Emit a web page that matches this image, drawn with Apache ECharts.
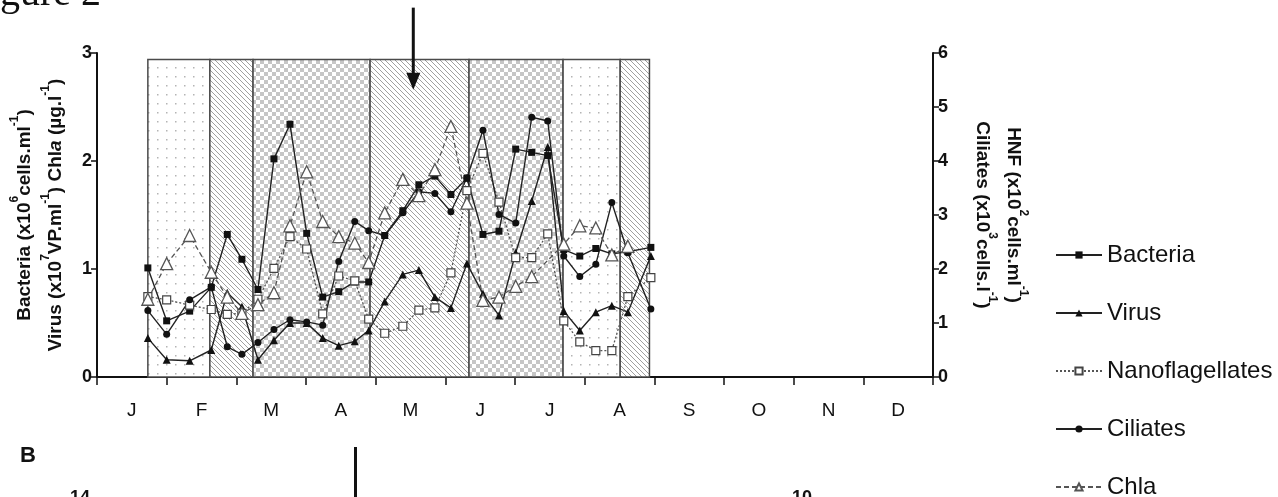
<!DOCTYPE html>
<html>
<head>
<meta charset="utf-8">
<script src="https://cdn.jsdelivr.net/npm/echarts@6/dist/echarts.min.js"></script>
<style>
  html, body { margin: 0; padding: 0; background: #fff; }
  #chart { width: 1278px; height: 497px; }
</style>
</head>
<body>
<div id="chart"></div>
<script>
// sampling dates, in months from 1 January
const sampleMonth = [0.73, 1.00, 1.33, 1.64, 1.87, 2.08, 2.31, 2.54, 2.77, 3.01, 3.24, 3.47, 3.70, 3.90, 4.13, 4.39,
  4.62, 4.85, 5.08, 5.31, 5.54, 5.77, 6.01, 6.24, 6.47, 6.70, 6.93, 7.16, 7.39, 7.62, 7.95]

// left axis
const bacteria = [1.01, 0.52, 0.61, 0.83, 1.32, 1.09, 0.81, 2.02, 2.34, 1.33, 0.74, 0.79, 0.88, 0.88, 1.31, 1.54,
  1.78, 1.86, 1.69, 1.84, 1.32, 1.35, 2.11, 2.08, 2.05, 1.18, 1.12, 1.19, 1.14, 1.16, 1.20]
const virus = [0.36, 0.16, 0.15, 0.25, 0.78, 0.65, 0.16, 0.34, 0.50, 0.50, 0.36, 0.29, 0.33, 0.43, 0.70, 0.95,
  0.99, 0.74, 0.64, 1.05, 0.77, 0.57, 1.15, 1.63, 2.13, 0.61, 0.43, 0.60, 0.66, 0.60, 1.12]
const chla = [0.72, 1.05, 1.31, 0.97, 0.74, 0.59, 0.67, 0.78, 1.40, 1.90, 1.44, 1.30, 1.24, 1.06, 1.52, 1.83,
  1.68, 1.92, 2.32, 1.61, 0.71, 0.74, 0.84, 0.93, null, 1.23, 1.40, 1.38, 1.13, 1.21, null]

// right axis
const nanoflagellates = [1.49, 1.43, 1.33, 1.25, 1.16, 1.18, 1.44, 2.01, 2.60, 2.37, 1.17, 1.87, 1.78, 1.07, 0.81, 0.94,
  1.24, 1.28, 1.93, 3.45, 4.14, 3.24, 2.21, 2.21, 2.65, 1.04, 0.65, 0.49, 0.49, 1.49, 1.84]
const ciliates = [1.23, 0.79, 1.43, 1.67, 0.56, 0.42, 0.64, 0.88, 1.06, 1.02, 0.96, 2.14, 2.88, 2.71, 2.62, 3.04,
  3.43, 3.40, 3.06, 3.69, 4.57, 3.01, 2.85, 4.81, 4.74, 2.24, 1.86, 2.09, 3.23, 2.30, 1.26]

// shaded periods
const periodStart = [0.73, 1.62, 2.24, 3.92, 5.34, 6.69, 7.51]
const periodEnd = [1.62, 2.24, 3.92, 5.34, 6.69, 7.51, 7.93]
const periodPattern = ['dots', 'hatch', 'check', 'hatch', 'check', 'dots', 'hatch']
const periodTop = 2.94

const arrowMonth = [4.54]
const arrowFrom = [3.42]
const arrowTo = [2.66]

const months = ['J', 'F', 'M', 'A', 'M', 'J', 'J', 'A', 'S', 'O', 'N', 'D']
const leftTicks = [0, 1, 2, 3]
const rightTicks = [0, 1, 2, 3, 4, 5, 6]

const FONT = 'Liberation Sans, Arial, sans-serif'

function makePattern(kind) {
  const c = document.createElement('canvas')
  const ctx = c.getContext('2d')
  if (kind === 'dots') {
    c.width = 9; c.height = 9
    ctx.fillStyle = '#fff'; ctx.fillRect(0, 0, 9, 9)
    ctx.fillStyle = '#b4b4b4'; ctx.fillRect(4, 4, 1.5, 1.5)
  } else if (kind === 'hatch') {
    c.width = 5; c.height = 5
    ctx.fillStyle = '#fff'; ctx.fillRect(0, 0, 5, 5)
    ctx.strokeStyle = '#a0a0a0'; ctx.lineWidth = 1
    ctx.beginPath()
    ctx.moveTo(-1, -1); ctx.lineTo(6, 6)
    ctx.moveTo(-1, 4); ctx.lineTo(1, 6)
    ctx.moveTo(4, -1); ctx.lineTo(6, 1)
    ctx.stroke()
  } else {
    c.width = 8; c.height = 8
    ctx.fillStyle = '#fff'; ctx.fillRect(0, 0, 8, 8)
    ctx.fillStyle = '#c6c6c6'
    ctx.fillRect(0, 0, 4, 4); ctx.fillRect(4, 4, 4, 4)
  }
  return { type: 'pattern', image: c, repeat: 'repeat' }
}
const patterns = { dots: makePattern('dots'), hatch: makePattern('hatch'), check: makePattern('check') }

function pairs(values) {
  return sampleMonth.map((m, i) => [m, values[i]])
}

const sup = { fontSize: 12, fontWeight: 'bold', fontFamily: FONT, color: '#111', verticalAlign: 'top', lineHeight: 18 }
const nameRich = {
  b: { fontSize: 19, fontWeight: 'bold', fontFamily: FONT, color: '#111', lineHeight: 31 },
  i: { fontSize: 19, fontWeight: 'bold', fontStyle: 'italic', fontFamily: FONT, color: '#111', lineHeight: 31 },
  s: sup
}

const chart = echarts.init(document.getElementById('chart'), null, { renderer: 'canvas' })

const lineBase = {
  type: 'line',
  xAxisIndex: 0,
  z: 3,
  animation: false,
  showAllSymbol: true
}

const options = {
  backgroundColor: '#fff',
  animation: false,
  grid: { left: 97, right: 345, top: 53, bottom: 120 },
  legend: {
    orient: 'vertical',
    left: 1055,
    top: 243,
    height: 320,
    padding: 0,
    itemWidth: 46,
    itemHeight: 9,
    itemGap: 34,
    textStyle: { fontSize: 24, fontFamily: FONT, color: '#111' },
    data: ['Bacteria', 'Virus', 'Nanoflagellates', 'Ciliates', 'Chla']
  },
  xAxis: [
    {
      type: 'value', min: 0, max: 12, interval: 1,
      axisLine: { lineStyle: { color: '#111', width: 2 } },
      axisTick: { length: 8, lineStyle: { color: '#111', width: 1.5 } },
      axisLabel: { show: false },
      splitLine: { show: false }
    },
    {
      type: 'category', data: months, position: 'bottom', boundaryGap: true,
      axisLine: { show: false }, axisTick: { show: false },
      axisLabel: { margin: 24, fontSize: 19, fontFamily: FONT, color: '#111' },
      splitLine: { show: false }
    }
  ],
  yAxis: [
    {
      type: 'value', min: leftTicks[0], max: leftTicks[leftTicks.length - 1], interval: 1, position: 'left',
      axisLine: { show: true, lineStyle: { color: '#111', width: 2 } },
      axisTick: { show: true, length: 6, lineStyle: { color: '#111', width: 1.5 } },
      axisLabel: { margin: 5, fontSize: 18, fontWeight: 'bold', fontFamily: FONT, color: '#111' },
      splitLine: { show: false },
      name: '{b|Bacteria (x10}{s|6}{b|cells.ml}{s|-1}{b|)}\n{b|Virus (x10}{s|7}{b|VP.ml}{s|-1}{b|) Chl}{i|a}{b| (µg.l}{s|-1}{b|)}',
      nameLocation: 'middle', nameRotate: 90, nameGap: 21,
      nameTextStyle: { rich: nameRich, lineHeight: 31 }
    },
    {
      type: 'value', min: rightTicks[0], max: rightTicks[rightTicks.length - 1], interval: 1, position: 'right',
      axisLine: { show: true, lineStyle: { color: '#111', width: 2 } },
      axisTick: { show: true, length: 6, lineStyle: { color: '#111', width: 1.5 } },
      axisLabel: { margin: 5, fontSize: 18, fontWeight: 'bold', fontFamily: FONT, color: '#111' },
      splitLine: { show: false },
      name: '{b|HNF (x10}{s|2}{b|cells.ml}{s|-1}{b|)}\n{b|Ciliates (x10}{s|3}{b|cells.l}{s|-1}{b|)}',
      nameLocation: 'middle', nameRotate: -90, nameGap: 34,
      nameTextStyle: { rich: nameRich, lineHeight: 31 }
    }
  ],
  graphic: [
    { type: 'text', left: 0, top: -26, style: { text: 'gure 2', font: '40px "Liberation Serif", serif', fill: '#111' } },
    { type: 'text', left: 20, top: 445, style: { text: 'B', font: 'bold 22px "Liberation Sans", Arial, sans-serif', fill: '#111' } },
    { type: 'rect', left: 354, top: 447, shape: { width: 3, height: 52 }, style: { fill: '#111' } },
    { type: 'text', left: 70, top: 489, style: { text: '14', font: 'bold 18px "Liberation Sans", Arial, sans-serif', fill: '#111' } },
    { type: 'text', left: 792, top: 489, style: { text: '10', font: 'bold 18px "Liberation Sans", Arial, sans-serif', fill: '#111' } }
  ],
  series: [
    {
      name: 'periods',
      type: 'custom',
      xAxisIndex: 0,
      yAxisIndex: 0,
      z: 1,
      silent: true,
      data: periodStart.map((s, i) => [s, periodEnd[i], periodTop, i]),
      renderItem(params, api) {
        const a = api.coord([api.value(0), api.value(2)])
        const b = api.coord([api.value(1), 0])
        return {
          type: 'rect',
          shape: { x: a[0], y: a[1], width: b[0] - a[0], height: b[1] - a[1] },
          style: { fill: patterns[periodPattern[api.value(3)]], stroke: '#4a4a4a', lineWidth: 1.5 }
        }
      }
    },
    {
      name: 'arrow',
      type: 'custom',
      xAxisIndex: 0,
      yAxisIndex: 0,
      z: 4,
      silent: true,
      clip: false,
      data: arrowMonth.map((m, i) => [m, arrowFrom[i], arrowTo[i]]),
      renderItem(params, api) {
        const top = api.coord([api.value(0), api.value(1)])
        const tip = api.coord([api.value(0), api.value(2)])
        return {
          type: 'group',
          children: [
            { type: 'line', shape: { x1: top[0], y1: top[1], x2: tip[0], y2: tip[1] - 14 }, style: { stroke: '#111', lineWidth: 3 } },
            { type: 'polygon', shape: { points: [[tip[0] - 7, tip[1] - 17], [tip[0] + 7, tip[1] - 17], [tip[0], tip[1]]] }, style: { fill: '#111' } }
          ]
        }
      }
    },
    Object.assign({}, lineBase, {
      name: 'Bacteria', yAxisIndex: 0, data: pairs(bacteria),
      symbol: 'rect', symbolSize: 7,
      itemStyle: { color: '#111' },
      lineStyle: { color: '#222', width: 1.4 }
    }),
    Object.assign({}, lineBase, {
      name: 'Virus', yAxisIndex: 0, data: pairs(virus),
      symbol: 'triangle', symbolSize: 8,
      itemStyle: { color: '#111' },
      lineStyle: { color: '#222', width: 1.4 }
    }),
    Object.assign({}, lineBase, {
      name: 'Nanoflagellates', yAxisIndex: 1, data: pairs(nanoflagellates),
      symbol: 'rect', symbolSize: 8,
      itemStyle: { color: '#fff', borderColor: '#444', borderWidth: 1.2 },
      lineStyle: { color: '#555', width: 1.3, type: [2, 2] }
    }),
    Object.assign({}, lineBase, {
      name: 'Ciliates', yAxisIndex: 1, data: pairs(ciliates),
      symbol: 'circle', symbolSize: 7,
      itemStyle: { color: '#111' },
      lineStyle: { color: '#222', width: 1.4 }
    }),
    Object.assign({}, lineBase, {
      name: 'Chla', yAxisIndex: 0, data: pairs(chla), connectNulls: true,
      symbol: 'triangle', symbolSize: 12,
      itemStyle: { color: '#fff', borderColor: '#555', borderWidth: 1.3 },
      lineStyle: { color: '#555', width: 1.3, type: [5, 3] }
    })
  ]
}

chart.setOption(options)
</script>
</body>
</html>
